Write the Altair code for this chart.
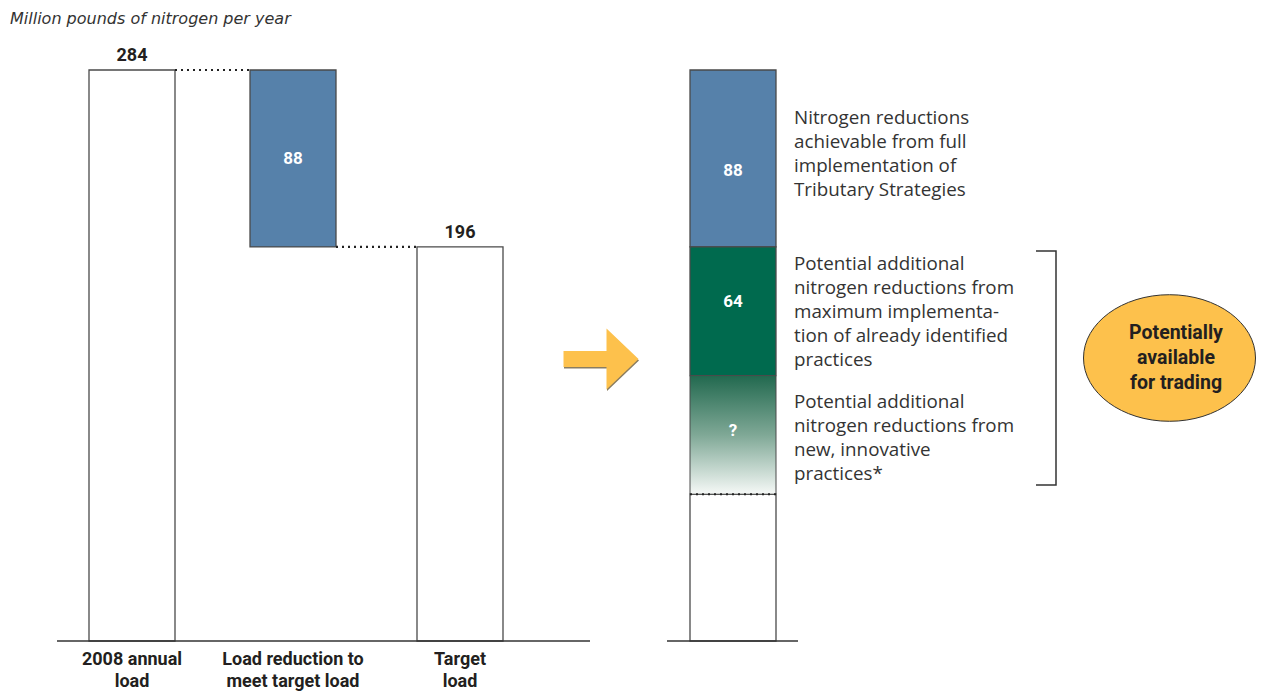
import altair as alt
import pandas as pd

# ---------------- data ----------------
title_text = "Million pounds of nitrogen per year"
left_categories = ["2008 annual\nload", "Load reduction to\nmeet target load", "Target\nload"]
load_2008 = 284
load_reduction = 88
target_load = 196

right_labels = ["88", "64", "?"]
right_values = [88, 64, 59]          # "?" segment estimated from its drawn height
right_descriptions = [
    "Nitrogen reductions\nachievable from full\nimplementation of\nTributary Strategies",
    "Potential additional\nnitrogen reductions from\nmaximum implementa-\ntion of already identified\npractices",
    "Potential additional\nnitrogen reductions from\nnew, innovative\npractices*",
]
oval_text = "Potentially\navailable\nfor trading"

# ---------------- layout / styles ----------------
W, H = 1248, 684
BASE_PY = 641.0            # page y of value 0
S = 2.0106                 # px per million pounds
D0 = -(8 + H - BASE_PY) / S
D1 = D0 + H / S

def v(page_y):
    return (BASE_PY - page_y) / S

BLUE = "#5681AA"
GREEN = "#006A4E"
ORANGE = "#FDC14C"
EDGE = "#4a4a4a"
TEXT = "#231F20"
BOLD = "Roboto, 'Liberation Sans', sans-serif"
BODY = "'Open Sans', 'Noto Sans', sans-serif"
TITLE_FONT = "'DejaVu Sans', sans-serif"

left_centers = [132, 293, 460]
right_center = 733
HALF = 43

X = alt.Scale(domain=[8, 8 + W], nice=False, zero=False)
Y = alt.Scale(domain=[D0, D1], nice=False, zero=False)

def xe(f="x"):
    return alt.X(f"{f}:Q", scale=X, axis=None)

def ye(f="y"):
    return alt.Y(f"{f}:Q", scale=Y, axis=None)

# ---------------- bars ----------------
rows = []
rows.append(dict(x0=left_centers[0] - HALF, x1=left_centers[0] + HALF, y0=0, y1=load_2008, fill="white"))
rows.append(dict(x0=left_centers[1] - HALF, x1=left_centers[1] + HALF, y0=load_2008 - load_reduction, y1=load_2008, fill=BLUE))
rows.append(dict(x0=left_centers[2] - HALF, x1=left_centers[2] + HALF, y0=0, y1=target_load, fill="white"))
top = load_2008
seg_bounds = []
for val in right_values:
    seg_bounds.append((top - val, top))
    top -= val
base_rest = top
rows.append(dict(x0=right_center - HALF, x1=right_center + HALF, y0=seg_bounds[0][0], y1=seg_bounds[0][1], fill=BLUE))
rows.append(dict(x0=right_center - HALF, x1=right_center + HALF, y0=seg_bounds[1][0], y1=seg_bounds[1][1], fill=GREEN))
rows.append(dict(x0=right_center - HALF, x1=right_center + HALF, y0=0, y1=base_rest, fill="white"))
bars_df = pd.DataFrame(rows)

bars = alt.Chart(bars_df).mark_rect(stroke=EDGE, strokeWidth=1.3).encode(
    x=xe("x0"), x2="x1", y=ye("y0"), y2="y1",
    fill=alt.Fill("fill:N", scale=None),
)

grad_df = pd.DataFrame([dict(x0=right_center - HALF, x1=right_center + HALF,
                             y0=seg_bounds[2][0], y1=seg_bounds[2][1])])
grad = alt.Chart(grad_df).mark_rect(
    fill=alt.Gradient(gradient="linear",
                      stops=[alt.GradientStop(color="#22694F", offset=0),
                             alt.GradientStop(color="#7FA896", offset=0.5),
                             alt.GradientStop(color="#F6F9F7", offset=1)],
                      x1=0, x2=0, y1=0, y2=1),
    stroke=EDGE, strokeWidth=1.0,
).encode(x=xe("x0"), x2="x1", y=ye("y0"), y2="y1")

# ---------------- dotted connectors ----------------
dots_df = pd.DataFrame([
    dict(x0=left_centers[0] + HALF, x1=left_centers[1] - HALF, y=load_2008),
    dict(x0=left_centers[1] + HALF, x1=left_centers[2] - HALF, y=target_load),
    dict(x0=right_center - HALF, x1=right_center + HALF, y=base_rest),
])
dots = alt.Chart(dots_df).mark_rule(strokeDash=[2, 4], strokeWidth=2.2, color="#222").encode(
    x=xe("x0"), x2="x1", y=ye("y"))

# ---------------- baselines ----------------
base_df = pd.DataFrame([dict(x0=57, x1=590, y=0), dict(x0=667, x1=798, y=0)])
baselines = alt.Chart(base_df).mark_rule(strokeWidth=1.6, color="#333").encode(
    x=xe("x0"), x2="x1", y=ye("y"))

# ---------------- texts ----------------
title = alt.Chart(pd.DataFrame([dict(x=10, y=v(23.5), t=title_text)])).mark_text(
    align="left", baseline="alphabetic", font=TITLE_FONT, fontStyle="italic", fontSize=16, color="#333"
).encode(x=xe(), y=ye(), text="t:N")

totals_df = pd.DataFrame([dict(x=left_centers[0], y=load_2008, t=str(load_2008)),
                          dict(x=left_centers[2], y=target_load, t=str(target_load))])
totals = alt.Chart(totals_df).mark_text(
    baseline="alphabetic", dy=-9, font=BOLD, fontWeight="bold", fontSize=18, color=TEXT
).encode(x=xe(), y=ye(), text="t:N")

cats_df = pd.DataFrame([dict(x=c, y=0, t=t) for c, t in zip(left_centers, left_categories)])
cats = alt.Chart(cats_df).mark_text(
    baseline="alphabetic", dy=24, lineBreak="\n", lineHeight=22,
    font=BOLD, fontWeight="bold", fontSize=18, color=TEXT
).encode(x=xe(), y=ye(), text="t:N")

inbar_rows = [dict(x=left_centers[1], y=v(159), t=str(load_reduction))]
label_py = [171, 302, 431]
for lab, py in zip(right_labels, label_py):
    inbar_rows.append(dict(x=right_center, y=v(py), t=lab))
inbar = alt.Chart(pd.DataFrame(inbar_rows)).mark_text(
    baseline="middle", font=BOLD, fontWeight="bold", fontSize=17, color="white"
).encode(x=xe(), y=ye(), text="t:N")

desc_py = [124, 270, 408]
desc_df = pd.DataFrame([dict(x=794, y=v(py), t=t) for t, py in zip(right_descriptions, desc_py)])
desc = alt.Chart(desc_df).mark_text(
    align="left", baseline="alphabetic", lineBreak="\n", lineHeight=24,
    font=BODY, fontSize=18.8, color="#333"
).encode(x=xe(), y=ye(), text="t:N")

# ---------------- bracket ----------------
br_df = pd.DataFrame([dict(i=0, x=1036, y=v(251)), dict(i=1, x=1056, y=v(251)),
                      dict(i=2, x=1056, y=v(485)), dict(i=3, x=1036, y=v(485))])
bracket = alt.Chart(br_df).mark_line(color="#333", strokeWidth=1.5).encode(
    x=xe(), y=ye(), order="i:Q")

# ---------------- arrow and oval ----------------
ARROW = "M -0.925 -0.2 L 0.15 -0.2 L 0.15 -0.76 L 0.95 0 L 0.15 0.76 L 0.15 0.2 L -0.925 0.2 Z"
ELL = ("M -1 0 C -1 -0.406 -0.552 -0.736 0 -0.736 C 0.552 -0.736 1 -0.406 1 0 "
       "C 1 0.406 0.552 0.736 0 0.736 C -0.552 0.736 -1 0.406 -1 0 Z")
arrow_shadow = alt.Chart(pd.DataFrame([dict(x=601, y=v(360.5))])).mark_point(
    shape=ARROW, size=6400, filled=True, color="#8a7d60", opacity=1).encode(x=xe(), y=ye())
arrow = alt.Chart(pd.DataFrame([dict(x=600.5, y=v(359))])).mark_point(
    shape=ARROW, size=6400, filled=True, color=ORANGE, opacity=1).encode(x=xe(), y=ye())
oval = alt.Chart(pd.DataFrame([dict(x=1169.5, y=v(358))])).mark_point(
    shape=ELL, size=172 * 172, filled=True, fill=ORANGE, stroke="#333", strokeWidth=1, opacity=1
).encode(x=xe(), y=ye())
oval_label = alt.Chart(pd.DataFrame([dict(x=1176, y=v(333), t=oval_text)])).mark_text(
    baseline="middle", lineBreak="\n", lineHeight=25,
    font=BOLD, fontWeight="bold", fontSize=19.5, color=TEXT
).encode(x=xe(), y=ye(), text="t:N")

chart = alt.layer(
    bars, grad, dots, baselines, title, totals, cats, inbar, desc, bracket,
    arrow_shadow, arrow, oval, oval_label
).properties(
    width=W, height=H, autosize=alt.AutoSizeParams(type="none"), padding=0
).configure_view(stroke=None)

chart.save("out.html", embed_options={"renderer": "svg", "actions": False})
